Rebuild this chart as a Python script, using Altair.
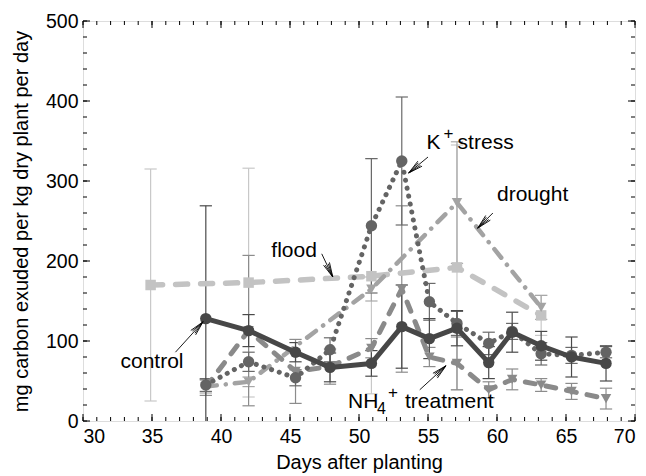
import math
import altair as alt
import pandas as pd

# ---------------- data ----------------
days = [38.9, 42.0, 45.4, 47.9, 50.9, 53.1, 55.1, 57.1, 59.4, 61.1, 63.2, 65.4, 67.9]
control = [128, 113, 86, 67, 72, 118, 103, 116, 73, 111, 94, 80, 72]
control_err = [141, 20, 12, 18, 16, 52, 25, 22, 20, 25, 18, 25, 22]
kstress = [45, 74, 54, 89, 244, 325, 149, 122, 97, 112, 84, 82, 86]
kstress_err = [8, 12, 10, 15, 84, 80, 23, 15, 14, 10, 14, 10, 7]
nh4 = [42, 113, 62, 68, 91, 165, 80, 72, 39, 52, 45, 37, 28]
nh4_err = [10, 94, 40, 22, 12, 104, 12, 33, 10, 13, 8, 10, 13]
drought_days = [38.9, 42.0, 50.9, 57.1, 63.2]
drought = [43, 49, 165, 273, 142]
drought_err = [8, 6, 15, 76, 15]
flood_days = [34.9, 42.0, 50.9, 57.1, 63.2]
flood = [170, 173, 181, 192, 132]
flood_err = [145, 143, 147, 153, 25]

x_major = [30, 35, 40, 45, 50, 55, 60, 65, 70]
x_minor = list(range(30, 71))
y_major = [0, 100, 200, 300, 400, 500]
y_minor = list(range(0, 501, 20))

# annotation anchors (data coordinates)
arrow_x = [36.7, 47.3, 55.0, 59.7, 54.4]
arrow_y = [86, 209, 330, 260, 39]
arrow_x2 = [38.7, 48.1, 53.6, 58.6, 56.3]
arrow_y2 = [124, 180, 310, 241, 69]

W, H = 552, 400
XD, YD = [30, 70], [0, 500]
SX, SY = W / 40.0, H / 500.0
FONT = "Liberation Sans"

xs = alt.Scale(domain=XD, nice=False, zero=False)
ys = alt.Scale(domain=YD, nice=False, zero=False)

XAX = alt.Axis(values=x_major, ticks=False, domain=False, grid=False,
               labelFont=FONT, labelFontSize=19.5, labelColor="black",
               labelPadding=6, titleFont=FONT, titleFontSize=20,
               titleFontWeight="normal", titleColor="black", titlePadding=7)
YAX = alt.Axis(values=y_major, ticks=False, domain=False, grid=False,
               labelFont=FONT, labelFontSize=19.5, labelColor="black",
               labelPadding=5, titleFont=FONT, titleFontSize=20,
               titleFontWeight="normal", titleColor="black", titlePadding=14)
XT = "Days after planting"
YT = "mg carbon exuded per kg dry plant per day"


def X(f):
    return alt.X(f, type="quantitative", scale=xs, axis=XAX, title=XT)


def Y(f):
    return alt.Y(f, type="quantitative", scale=ys, axis=YAX, title=YT)


def series_df(dd, vv, ee):
    return pd.DataFrame({"day": dd, "val": vv,
                         "lo": [v - e for v, e in zip(vv, ee)],
                         "hi": [v + e for v, e in zip(vv, ee)]})


CAP = "M -1 0 L 1 0"

specs = [
    ("flood", flood_days, flood, flood_err, "#c3c3c3", "#c8c8c8", [12, 13], 5.5, "square", 110),
    ("drought", drought_days, drought, drought_err, "#a3a3a3", "#a8a8a8", [11, 9, 0.1, 9], 4.5, "triangle-down", 110),
    ("nh4", days, nh4, nh4_err, "#8a8a8a", "#8c8c8c", [10, 11], 5, "triangle-down", 110),
    ("kstress", days, kstress, kstress_err, "#646464", "#6a6a6a", [0.1, 8], 5, "circle", 130),
    ("control", days, control, control_err, "#474747", "#4a4a4a", None, 5, "circle", 130),
]

bar_layers, line_layers = [], []
for name, dd, vv, ee, col, bcol, dash, sw, shape, size in specs:
    df = series_df(dd, vv, ee)
    base = alt.Chart(df)
    bar_layers.append(base.mark_rule(color=bcol, strokeWidth=1.2, clip=True).encode(
        x=X("day"), y=Y("lo"), y2="hi"))
    bar_layers.append(base.mark_point(shape=CAP, size=150, color=bcol, strokeWidth=1.2,
                                      filled=False, opacity=1, clip=True).encode(x=X("day"), y=Y("lo")))
    bar_layers.append(base.mark_point(shape=CAP, size=150, color=bcol, strokeWidth=1.2,
                                      filled=False, opacity=1, clip=True).encode(x=X("day"), y=Y("hi")))
    lkw = dict(color=col, strokeWidth=sw, strokeCap="round", strokeJoin="round")
    if dash:
        lkw["strokeDash"] = dash
    line_layers.append(base.mark_line(**lkw).encode(x=X("day"), y=Y("val"), order="day:Q"))
    line_layers.append(base.mark_point(shape=shape, size=size, filled=True, color=col,
                                       opacity=1).encode(x=X("day"), y=Y("val")))

# ---------------- arrows ----------------
rows = []
for x0, y0, x1, y1 in zip(arrow_x, arrow_y, arrow_x2, arrow_y2):
    rows.append((x0, y0, x1, y1))
    dx, dy = (x0 - x1) * SX, (y0 - y1) * SY
    ang = math.atan2(dy, dx)
    for da, ln in [(0.22, 15), (-0.22, 15), (0.12, 14), (-0.12, 14)]:
        a = ang + da
        rows.append((x1, y1, x1 + ln * math.cos(a) / SX, y1 + ln * math.sin(a) / SY))
arrows = pd.DataFrame(rows, columns=["x", "y", "x2", "y2"])
arrow_layer = alt.Chart(arrows).mark_rule(color="black", strokeWidth=0.9).encode(
    x=X("x"), y=Y("y"), x2="x2", y2="y2")

# ---------------- texts ----------------
texts = pd.DataFrame([
    ("control", 35.0, 74, 0, 0, 21, "center"),
    ("flood", 45.3, 213, 0, 0, 21, "center"),
    ("drought", 60.0, 282, 0, 0, 21, "left"),
    ("K", 54.9, 347, 0, 0, 21, "left"),
    ("+", 54.9, 347, 17, -9, 17, "left"),
    ("stress", 54.9, 347, 31, 0, 21, "left"),
    ("NH", 49.2, 24, 0, 0, 21, "left"),
    ("4", 49.2, 24, 29, 7, 16, "left"),
    ("+", 49.2, 24, 40, -9, 17, "left"),
    ("treatment", 49.2, 24, 57, 0, 21, "left"),
], columns=["t", "x", "y", "dx", "dy", "fs", "al"])
text_layers = []
for _, r in texts.iterrows():
    text_layers.append(alt.Chart(pd.DataFrame([r])).mark_text(
        font=FONT, fontSize=int(r.fs), align=r.al, baseline="middle", color="black",
        dx=int(r.dx), dy=int(r.dy)).encode(x=X("x"), y=Y("y"), text="t:N"))

# ---------------- ticks (inward, all four sides) ----------------
tick_layers = []
for vals, ln in [(x_minor, 4), (x_major, 7)]:
    d = pd.DataFrame({"t": vals})
    tick_layers.append(alt.Chart(d).mark_rule(color="black", strokeWidth=1).encode(
        x=X("t"), y=alt.value(H), y2=alt.value(H - ln)))
    tick_layers.append(alt.Chart(d).mark_rule(color="black", strokeWidth=1).encode(
        x=X("t"), y=alt.value(0), y2=alt.value(ln)))
for vals, ln in [(y_minor, 4), (y_major, 7)]:
    d = pd.DataFrame({"t": vals})
    tick_layers.append(alt.Chart(d).mark_rule(color="black", strokeWidth=1).encode(
        y=Y("t"), x=alt.value(0), x2=alt.value(ln)))
    tick_layers.append(alt.Chart(d).mark_rule(color="black", strokeWidth=1).encode(
        y=Y("t"), x=alt.value(W), x2=alt.value(W - ln)))

chart = alt.layer(*tick_layers, *bar_layers, *line_layers, arrow_layer,
                  *text_layers).properties(
    width=W, height=H,
    padding={"left": 83, "top": 21, "right": 11, "bottom": 55},
    autosize=alt.AutoSizeParams(type="none"),
).configure_view(stroke="black", strokeWidth=1.2).configure(background="white")

chart.save("out.html", embed_options={"renderer": "svg", "actions": False})
